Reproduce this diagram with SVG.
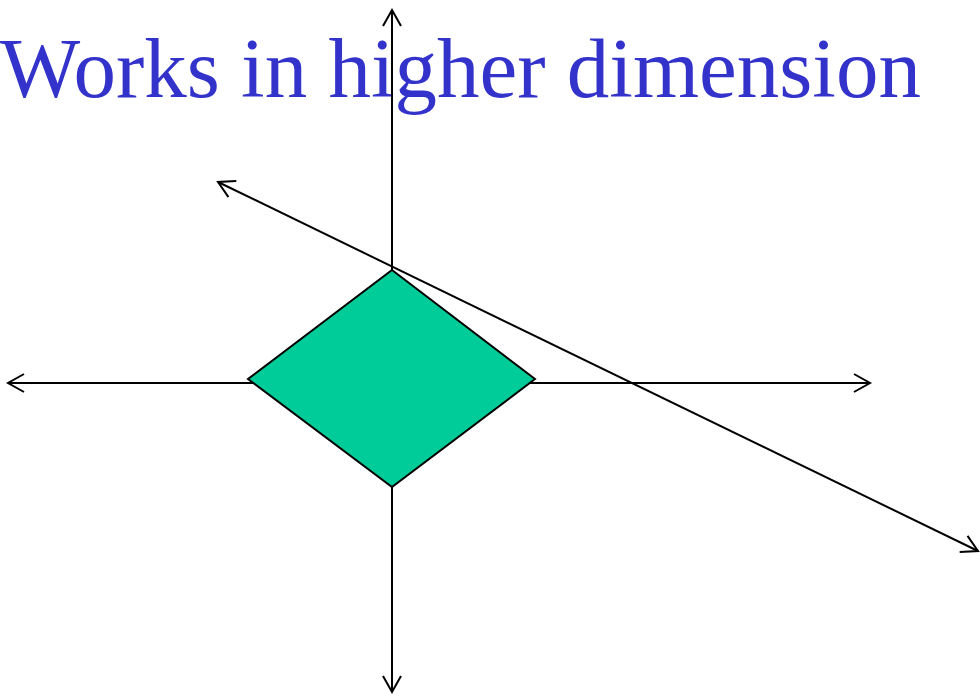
<svg xmlns="http://www.w3.org/2000/svg" width="980" height="696" viewBox="0 0 980 696">
<style>
.ax{stroke:#000;stroke-width:2;fill:none;marker-end:url(#arr);marker-start:url(#arrs)}
.title{font-family:"Liberation Serif","Times New Roman",serif;font-size:85px;fill:#3333CC}
</style>
<defs>
<marker id="arr" markerUnits="userSpaceOnUse" markerWidth="30" markerHeight="30" viewBox="-20 -15 30 30" refX="0" refY="0" orient="auto" overflow="visible">
<path d="M-16,-9 L0,0 L-16,9" fill="none" stroke="#000" stroke-width="2"/>
</marker>
<marker id="arrs" markerUnits="userSpaceOnUse" markerWidth="30" markerHeight="30" viewBox="-20 -15 30 30" refX="0" refY="0" orient="auto-start-reverse" overflow="visible">
<path d="M-16,-9 L0,0 L-16,9" fill="none" stroke="#000" stroke-width="2"/>
</marker>
</defs>
<rect width="980" height="696" fill="#fff"/>
<g id="title"><text class="title" x="0" y="97">Works in higher dimension</text></g>
<g id="connectors">
<line class="ax" x1="392" y1="692" x2="392" y2="10"/>
<line class="ax" x1="8" y1="383" x2="870" y2="383"/>
<line class="ax" x1="218" y1="182" x2="978" y2="551"/>
</g>
<g id="diamond">
<polygon points="392,270 535,379 392,487 248,379" fill="#00CC99" stroke="#000" stroke-width="2"/>
</g>
</svg>
